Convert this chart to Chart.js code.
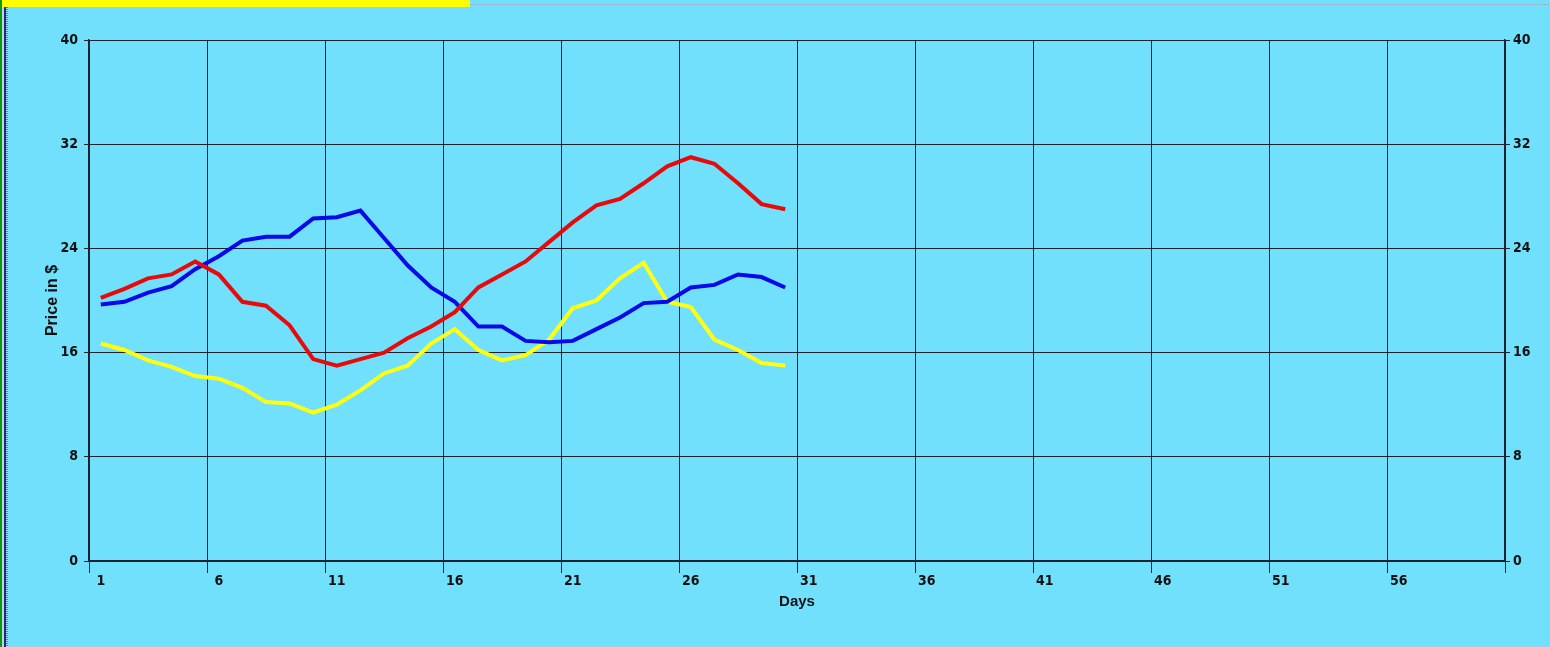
<!DOCTYPE html>
<html>
<head>
<meta charset="utf-8">
<script src="https://cdn.jsdelivr.net/npm/chart.js@4/dist/chart.umd.min.js"></script>
<style>
html,body{margin:0;padding:0;background:#70E0FC;width:1550px;height:647px;overflow:hidden;}
#wrap{position:absolute;left:0;top:0;width:1550px;height:647px;}
.bar{position:absolute;left:2px;top:0;width:468px;height:7px;background:#FFFF00;}
.g{position:absolute;left:0;top:0;width:2px;height:647px;background:#0a9a0a;}
.w{position:absolute;left:2px;top:7px;width:2px;height:640px;background:#b8d8e0;}
.b{position:absolute;left:4px;top:7px;width:2px;height:640px;background:#1a2a90;}
.d{position:absolute;left:6px;top:7px;width:2px;height:640px;background:repeating-linear-gradient(#5a7ad8 0 1px,#a8e0f8 1px 2px);}
.t{position:absolute;left:470px;top:4px;width:1080px;height:1px;background:repeating-linear-gradient(90deg,#8aa8c0 0 1px,#70E0FC 1px 2px);}
</style>
</head>
<body>
<div id="wrap"><canvas id="c" width="1550" height="647"></canvas></div>
<div class="g"></div><div class="w"></div><div class="b"></div><div class="d"></div><div class="bar"></div><div class="t"></div>
<script>
const days = [1,2,3,4,5,6,7,8,9,10,11,12,13,14,15,16,17,18,19,20,21,22,23,24,25,26,27,28,29,30];
const redSeries = [20.2,20.9,21.7,22.0,23.0,22.0,19.9,19.6,18.1,15.5,15.0,15.5,16.0,17.1,18.0,19.1,21.0,22.0,23.0,24.5,26.0,27.3,27.8,29.0,30.3,31.0,30.5,29.0,27.4,27.0];
const blueSeries = [19.7,19.9,20.6,21.1,22.4,23.4,24.6,24.9,24.9,26.3,26.4,26.9,24.8,22.7,21.0,19.9,18.0,18.0,16.9,16.8,16.9,17.8,18.7,19.8,19.9,21.0,21.2,22.0,21.8,21.0];
const yellowSeries = [16.7,16.2,15.4,14.9,14.2,14.0,13.3,12.2,12.1,11.4,12.0,13.1,14.4,15.0,16.7,17.8,16.2,15.4,15.8,17.0,19.4,20.0,21.7,22.9,19.9,19.5,17.0,16.2,15.2,15.0];
const xGridLines = [0.5,5.5,10.5,15.5,20.5,25.5,30.5,35.5,40.5,45.5,50.5,55.5,60.5];
const yTicks = [0,8,16,24,32,40];

const tickFont = {family:"'DejaVu Sans Condensed','Liberation Sans Narrow','Liberation Sans',Arial,sans-serif", size:14, weight:'bold'};
const titleFont = {family:"'Liberation Sans',Arial,sans-serif", size:15, weight:'bold'};
const gridCol = '#1c2230';

function pts(arr){ return days.map((d,i)=>({x:d,y:arr[i]})); }
function ds(arr,col){ return {data:pts(arr), borderColor:col, backgroundColor:col, borderWidth:4, pointRadius:0, tension:0, fill:false}; }

new Chart(document.getElementById('c'), {
  type:'line',
  data:{datasets:[ds(redSeries,'#E80A0A'), ds(blueSeries,'#0808E8'), ds(yellowSeries,'#FFFF10')]},
  options:{
    responsive:false, animation:false, devicePixelRatio:1,
    layout:{padding:{left:40,right:0,top:40,bottom:30}},
    plugins:{legend:{display:false}, tooltip:{enabled:false}},
    scales:{
      x:{type:'linear', min:0.5, max:60.5,
        afterBuildTicks:s=>{s.ticks = xGridLines.map(v=>({value:v}));},
        afterFit:s=>{s.height=56;},
        grid:{color:gridCol, lineWidth:1, tickLength:12, drawTicks:true},
        border:{color:gridCol, width:1.5},
        ticks:{color:'#111', font:tickFont, padding:0, labelOffset:11.8, maxRotation:0, autoSkip:false,
          callback:v=> v===60.5 ? '' : String(v+0.5)},
        title:{display:true, text:'Days', color:'#111', font:titleFont, padding:{top:0,bottom:6}}
      },
      y:{type:'linear', position:'left', min:0, max:40,
        afterBuildTicks:s=>{s.ticks = yTicks.map(v=>({value:v}));},
        afterFit:s=>{s.width=49;},
        grid:{color:gridCol, lineWidth:1, tickLength:5},
        border:{color:gridCol, width:1.5},
        ticks:{color:'#111', font:tickFont, padding:6},
        title:{display:true, text:'Price in $', color:'#111', font:{family:"'Liberation Sans',Arial,sans-serif", size:16, weight:'bold'}, padding:{top:3,bottom:0}}
      },
      y2:{type:'linear', position:'right', min:0, max:40,
        afterBuildTicks:s=>{s.ticks = yTicks.map(v=>({value:v}));},
        afterFit:s=>{s.width=45;},
        grid:{drawOnChartArea:false, color:gridCol, tickLength:5},
        border:{color:gridCol, width:1.5},
        ticks:{color:'#111', font:tickFont, padding:3}
      }
    }
  }
});
</script>
</body>
</html>
